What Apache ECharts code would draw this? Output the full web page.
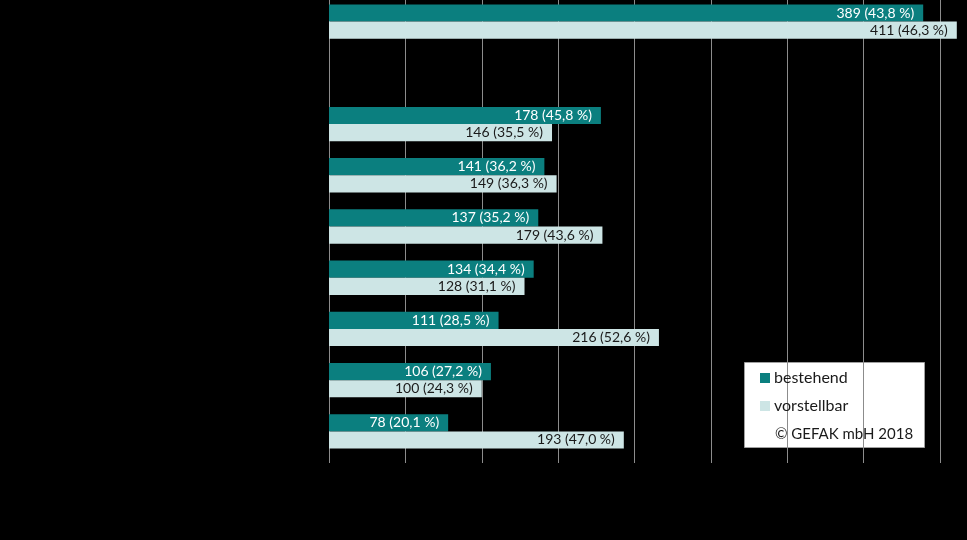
<!DOCTYPE html>
<html>
<head>
<meta charset="utf-8">
<script src="https://cdn.jsdelivr.net/npm/echarts@6/dist/echarts.min.js"></script>
<style>
html,body{margin:0;padding:0;background:#000;overflow:hidden;}
#chart{width:967px;height:544px;margin-top:-4px;}
</style>
</head>
<body>
<div id="chart"></div>
<script>
// Category slots (labels are not legible in the reference: drawn black on black)
const categories = ['K1', 'K2', 'K3', 'K4', 'K5', 'K6', 'K7', 'K8', 'K9'];
const bestehend = [389, null, 178, 141, 137, 134, 111, 106, 78];
const bestehendPct = ['43,8', null, '45,8', '36,2', '35,2', '34,4', '28,5', '27,2', '20,1'];
const vorstellbar = [411, null, 146, 149, 179, 128, 216, 100, 193];
const vorstellbarPct = ['46,3', null, '35,5', '36,3', '43,6', '31,1', '52,6', '24,3', '47,0'];
const xTicks = [0, 50, 100, 150, 200, 250, 300, 350, 400];
const seriesNames = ['bestehend', 'vorstellbar'];
const copyright = '\u00A9 GEFAK mbH 2018';

const FONT = 'Lato, "Open Sans", sans-serif';
const chart = echarts.init(document.getElementById('chart'), null, {renderer: 'canvas'});

function labelFor(pcts) {
  return function (p) {
    if (p.value == null) return '';
    return p.value + ' (' + pcts[p.dataIndex] + ' %)';
  };
}

chart.setOption({
  backgroundColor: '#000000',
  animation: false,
  grid: {left: 329, right: 27, top: 0, bottom: 83, containLabel: false},
  xAxis: {
    type: 'value',
    min: xTicks[0],
    max: xTicks[xTicks.length - 1],
    interval: 50,
    axisLine: {show: false},
    axisTick: {show: true, inside: false, length: 6, lineStyle: {color: '#8c8c8c'}},
    axisLabel: {color: '#000000', fontFamily: FONT, fontSize: 12},
    splitLine: {show: true, lineStyle: {color: '#8c8c8c', width: 1}}
  },
  yAxis: {
    type: 'category',
    data: categories,
    inverse: true,
    axisLine: {show: true, lineStyle: {color: '#8c8c8c'}},
    axisTick: {show: false},
    axisLabel: {show: true, color: '#000000', fontFamily: FONT}
  },
  legend: {
    show: true,
    orient: 'vertical',
    left: 755,
    top: 369,
    itemWidth: 10,
    itemHeight: 10,
    itemGap: 12,
    icon: 'rect',
    data: seriesNames,
    textStyle: {color: '#1a1a1a', fontFamily: FONT, fontSize: 16, padding: [0, 0, 0, -1]},
    backgroundColor: 'transparent'
  },
  graphic: [
    {type: 'rect', left: 744, top: 366, z: 0,
     shape: {width: 180, height: 85},
     style: {fill: '#ffffff', stroke: '#a0a0a0', lineWidth: 1}},
    {type: 'text', left: 775, top: 431, z: 10,
     style: {text: copyright, fill: '#1a1a1a', font: '15px ' + FONT}}
  ],
  series: [
    {
      name: seriesNames[0],
      type: 'bar',
      data: bestehend,
      clip: false,
      barGap: '0%',
      barCategoryGap: '33%',
      itemStyle: {color: '#0b7f7f'},
      z: 2,
      label: {show: true, position: 'insideRight', distance: 9, color: '#ffffff',
              fontFamily: FONT, fontSize: 14, formatter: labelFor(bestehendPct)}
    },
    {
      name: seriesNames[1],
      type: 'bar',
      data: vorstellbar,
      clip: false,
      barGap: '0%',
      barCategoryGap: '33%',
      itemStyle: {color: '#cde5e5'},
      z: 2,
      label: {show: true, position: 'insideRight', distance: 9, color: '#1a1a1a',
              fontFamily: FONT, fontSize: 14, formatter: labelFor(vorstellbarPct)}
    }
  ]
});
</script>
</body>
</html>
